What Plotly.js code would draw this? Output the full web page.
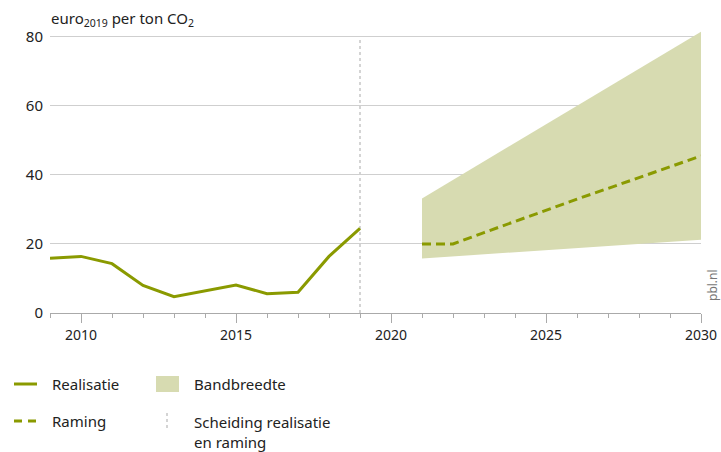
<!DOCTYPE html>
<html>
<head>
<meta charset="utf-8">
<script src="https://cdn.plot.ly/plotly-3.0.1.min.js"></script>
<style>html,body{margin:0;padding:0;background:#fff;}#chart{width:721px;height:452px;}</style>
</head>
<body>
<div id="chart"></div>
<script>
// Realisatie (historical)
const realYears = [2009, 2010, 2011, 2012, 2013, 2014, 2015, 2016, 2017, 2018, 2019];
const realValues = [15.9, 16.4, 14.3, 8.0, 4.7, 6.3, 8.1, 5.6, 6.0, 16.4, 24.5];
// Raming (projection)
const projYears = [2021, 2022, 2023, 2024, 2025, 2026, 2027, 2028, 2029, 2030];
const projValues = [20.0, 20.0, 23.3, 26.6, 29.8, 33.0, 36.1, 39.2, 42.3, 45.5];
// Bandbreedte (range)
const bandYears = [2021, 2030];
const bandLow = [15.8, 21.2];
const bandHigh = [33.2, 81.5];
// Scheiding realisatie en raming
const separatorYear = 2019;
// Axis ticks
const xTicks = [2010, 2015, 2020, 2025, 2030];
const yTicks = [0, 20, 40, 60, 80];
const legendLabels = ["Realisatie", "Bandbreedte", "Raming", "Scheiding realisatie<br>en raming"];

const olive = "#8a9a00";
const bandFill = "#d7dbb1";
const font = "'Noto Sans', 'Open Sans', sans-serif";
const dashStyle = "9px,5px";

const traces = [
  {x: bandYears, y: bandLow, mode: "lines", line: {width: 0, color: bandFill}, showlegend: false, hoverinfo: "skip"},
  {x: bandYears, y: bandHigh, mode: "lines", fill: "tonexty", fillcolor: bandFill, line: {width: 0, color: bandFill}, showlegend: false, name: "Bandbreedte"},
  {x: realYears, y: realValues, mode: "lines", line: {color: olive, width: 3}, showlegend: false, name: "Realisatie"},
  {x: projYears, y: projValues, mode: "lines", line: {color: olive, width: 3, dash: dashStyle}, showlegend: false, name: "Raming"}
];

// paper coordinate helpers (plot area: x 50..701, y 30..313)
const px = v => (v - 50) / 651;
const py = v => (313 - v) / 283;

const shapes = [
  {type: "line", xref: "x", yref: "y", x0: separatorYear, x1: separatorYear, y0: 0, y1: 80,
   line: {color: "#d4d4d4", width: 2, dash: "dot"}, layer: "below"},
  // legend symbols
  {type: "line", xref: "paper", yref: "paper", x0: px(14), x1: px(37), y0: py(384), y1: py(384), line: {color: olive, width: 3}},
  {type: "rect", xref: "paper", yref: "paper", x0: px(156), x1: px(179), y0: py(376), y1: py(392), line: {width: 0}, fillcolor: bandFill},
  {type: "line", xref: "paper", yref: "paper", x0: px(14), x1: px(36), y0: py(421), y1: py(421), line: {color: olive, width: 3, dash: "8px,6px"}},
  {type: "line", xref: "paper", yref: "paper", x0: px(167), x1: px(167), y0: py(413), y1: py(431), line: {color: "#d4d4d4", width: 2, dash: "dot"}}
];

const annotations = [
  {xref: "paper", yref: "paper", x: px(49), y: py(19), xanchor: "left", yanchor: "middle", showarrow: false,
   text: "euro<sub>2019</sub> per ton CO<sub>2</sub>", font: {family: font, size: 15, color: "#222"}},
  {xref: "paper", yref: "paper", x: px(712), y: py(285), xanchor: "center", yanchor: "middle", showarrow: false,
   text: "pbl.nl", textangle: -90, font: {family: font, size: 12, color: "#777"}},
  {xref: "paper", yref: "paper", x: px(50), y: py(384), xanchor: "left", yanchor: "middle", showarrow: false,
   text: legendLabels[0], font: {family: font, size: 15, color: "#222"}},
  {xref: "paper", yref: "paper", x: px(192), y: py(384), xanchor: "left", yanchor: "middle", showarrow: false,
   text: legendLabels[1], font: {family: font, size: 15, color: "#222"}},
  {xref: "paper", yref: "paper", x: px(50), y: py(421), xanchor: "left", yanchor: "middle", showarrow: false,
   text: legendLabels[2], font: {family: font, size: 15, color: "#222"}},
  {xref: "paper", yref: "paper", x: px(192), y: py(410), xanchor: "left", yanchor: "top", align: "left", showarrow: false,
   text: legendLabels[3], font: {family: font, size: 15, color: "#222"}}
];

const layout = {
  width: 721, height: 452,
  margin: {l: 50, r: 20, t: 30, b: 139},
  paper_bgcolor: "#fff", plot_bgcolor: "#fff",
  font: {family: font, size: 14, color: "#222"},
  showlegend: false,
  xaxis: {
    range: [2009, 2030], tickvals: xTicks, ticktext: xTicks.map(String),
    showgrid: false, zeroline: false, showline: true, linecolor: "#aaa", linewidth: 1,
    ticks: "outside", ticklen: 9, tickcolor: "#aaa", tickwidth: 1,
    minor: {dtick: 1, tick0: 2009, ticks: "outside", ticklen: 4, tickcolor: "#aaa", showgrid: false},
    tickfont: {family: font, size: 14, color: "#222"}, fixedrange: true
  },
  yaxis: {
    range: [0, 82], tickvals: yTicks, ticktext: yTicks.map(String),
    showgrid: true, gridcolor: "#cfcfcf", gridwidth: 1, zeroline: false, showline: false,
    ticks: "", ticklabelstandoff: 6,
    tickfont: {family: font, size: 15, color: "#222"}, fixedrange: true
  },
  shapes: shapes,
  annotations: annotations
};

Plotly.newPlot("chart", traces, layout, {displayModeBar: false, staticPlot: true});
</script>
</body>
</html>
